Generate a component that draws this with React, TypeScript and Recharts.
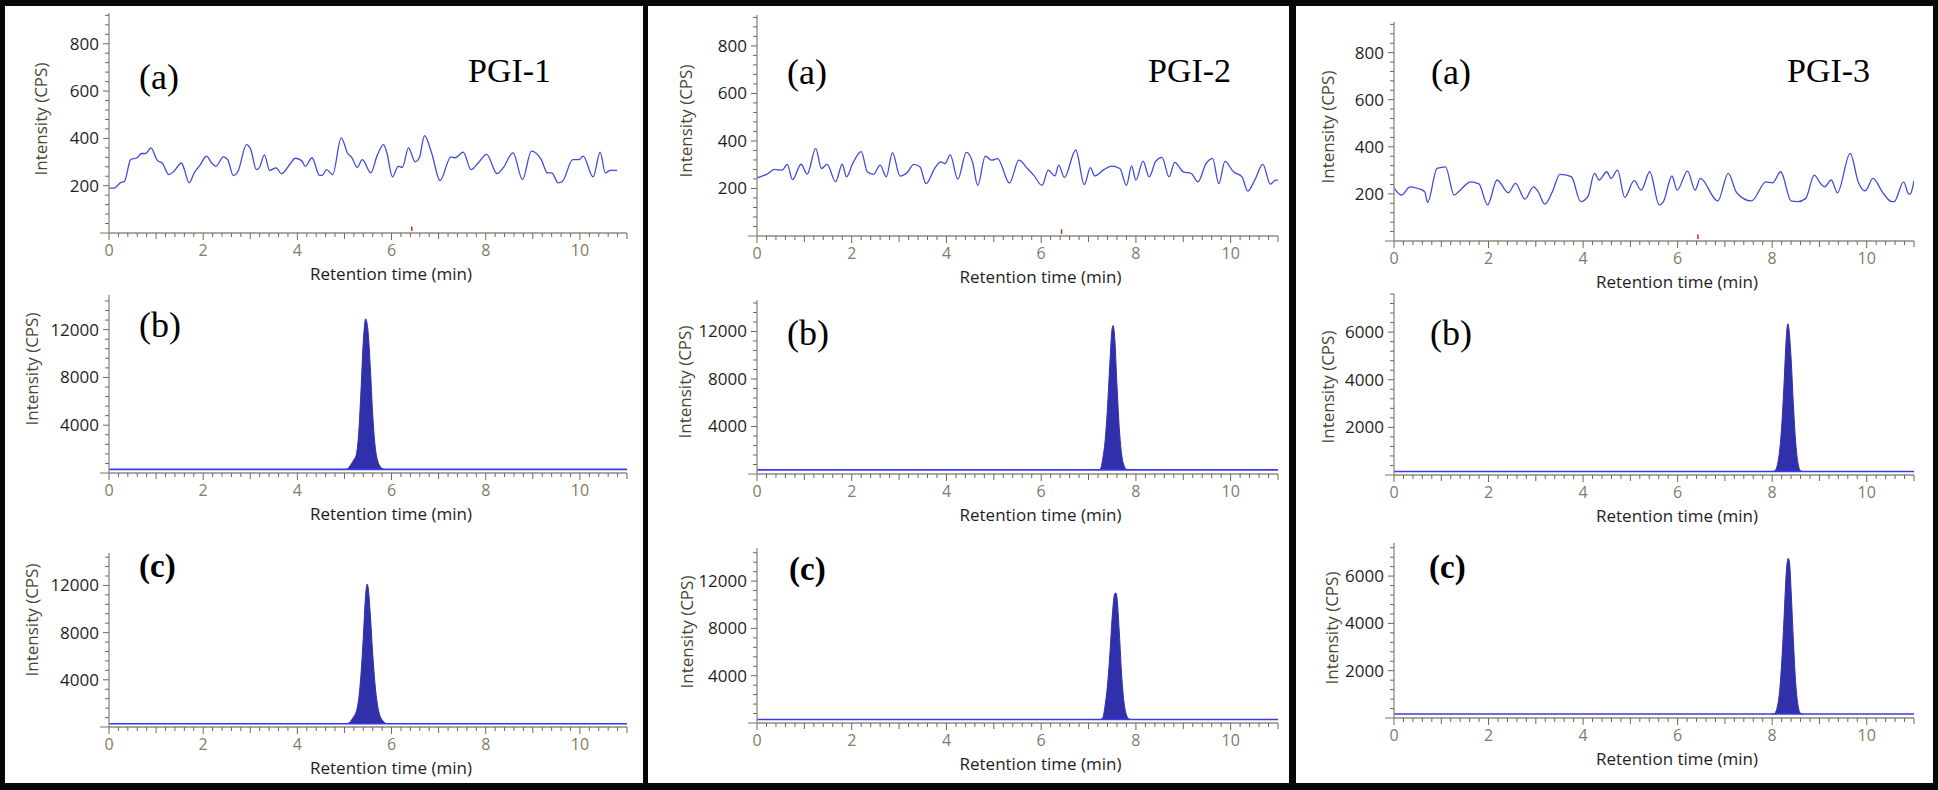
import React from 'react';
import { ComposedChart, Line, Area, XAxis, YAxis, ReferenceLine } from 'recharts';

// ---------- DATA ----------
// (a) blank noise traces: retention time (min) and intensity (CPS)
const PGI1_A_T = [0.0, 0.11, 0.24, 0.33, 0.46, 0.6, 0.69, 0.78, 0.89, 1.03, 1.13, 1.27, 1.38, 1.54, 1.6, 1.7, 1.81, 1.94, 2.07, 2.18, 2.27, 2.43, 2.52, 2.64, 2.74, 2.92, 3.01, 3.13, 3.19, 3.3, 3.41, 3.55, 3.66, 3.86, 3.95, 4.09, 4.17, 4.31, 4.47, 4.53, 4.62, 4.75, 4.93, 5.07, 5.16, 5.27, 5.38, 5.56, 5.69, 5.83, 5.9, 6.02, 6.14, 6.23, 6.36, 6.5, 6.59, 6.7, 6.85, 7.03, 7.26, 7.35, 7.52, 7.69, 7.84, 8.02, 8.24, 8.37, 8.58, 8.78, 8.97, 9.18, 9.31, 9.4, 9.54, 9.63, 9.85, 9.98, 10.07, 10.28, 10.43, 10.54, 10.65, 10.79];
const PGI1_A_V = [190, 190, 212, 219, 310, 318, 336, 336, 360, 306, 296, 247, 261, 296, 268, 212, 254, 289, 325, 296, 282, 322, 310, 243, 261, 374, 353, 268, 275, 330, 265, 275, 251, 296, 316, 306, 282, 318, 244, 244, 268, 247, 402, 336, 318, 278, 310, 254, 325, 374, 339, 237, 282, 278, 360, 301, 318, 412, 339, 222, 322, 318, 342, 268, 296, 332, 251, 275, 339, 226, 346, 310, 254, 254, 212, 219, 310, 310, 325, 237, 342, 254, 265, 265];

const PGI2_A_T = [0.0, 0.11, 0.2, 0.37, 0.53, 0.64, 0.75, 0.93, 1.06, 1.24, 1.36, 1.48, 1.66, 1.8, 1.89, 2.02, 2.2, 2.33, 2.46, 2.6, 2.73, 2.86, 3.02, 3.17, 3.31, 3.44, 3.57, 3.75, 3.88, 3.97, 4.08, 4.24, 4.42, 4.55, 4.66, 4.82, 4.96, 5.08, 5.33, 5.53, 5.71, 5.84, 6.02, 6.15, 6.29, 6.37, 6.49, 6.73, 6.91, 7.04, 7.13, 7.31, 7.48, 7.66, 7.8, 7.91, 8.0, 8.15, 8.28, 8.42, 8.55, 8.7, 8.82, 9.0, 9.17, 9.31, 9.48, 9.62, 9.75, 9.88, 10.06, 10.24, 10.36, 10.51, 10.68, 10.84, 10.95, 11.0];
const PGI2_A_V = [245, 252, 259, 280, 277, 301, 237, 302, 260, 369, 284, 301, 228, 302, 249, 305, 355, 270, 259, 298, 249, 351, 252, 267, 301, 291, 220, 284, 312, 305, 341, 239, 352, 312, 213, 336, 319, 326, 223, 319, 284, 256, 213, 277, 253, 298, 246, 362, 216, 288, 253, 277, 294, 284, 213, 295, 235, 315, 249, 315, 331, 249, 310, 270, 263, 228, 305, 326, 220, 314, 270, 249, 189, 235, 301, 218, 235, 235];

const PGI3_A_T = [0.0, 0.16, 0.34, 0.51, 0.65, 0.71, 0.91, 1.09, 1.27, 1.4, 1.62, 1.76, 1.8, 1.98, 2.18, 2.42, 2.57, 2.77, 2.95, 3.04, 3.19, 3.35, 3.51, 3.75, 3.95, 4.1, 4.24, 4.34, 4.5, 4.59, 4.73, 4.88, 5.08, 5.23, 5.41, 5.61, 5.7, 5.88, 5.99, 6.21, 6.37, 6.48, 6.81, 6.85, 7.07, 7.25, 7.56, 7.87, 8.01, 8.18, 8.4, 8.54, 8.71, 8.89, 9.02, 9.11, 9.25, 9.38, 9.65, 9.82, 9.96, 10.0, 10.13, 10.35, 10.53, 10.58, 10.78, 10.89, 10.93, 11.0];
const PGI3_A_V = [226, 195, 230, 223, 209, 164, 308, 315, 195, 216, 251, 245, 242, 153, 259, 205, 245, 178, 230, 213, 157, 209, 283, 273, 167, 188, 287, 259, 294, 266, 301, 185, 256, 216, 294, 153, 167, 276, 216, 297, 216, 266, 174, 170, 287, 205, 170, 251, 247, 294, 170, 167, 181, 280, 245, 230, 259, 205, 372, 251, 213, 219, 266, 202, 167, 167, 251, 199, 202, 255];

// (b) and (c) chromatograms: baseline level and peak profile
const PGI1_B_BASE = 300;
const PGI1_B_T = [5.0, 5.05, 5.1, 5.15, 5.2, 5.25, 5.3, 5.35, 5.4, 5.45, 5.5, 5.55, 5.6, 5.65, 5.7, 5.75, 5.8, 5.85];
const PGI1_B_V = [300, 320, 500, 800, 1100, 1500, 3200, 6800, 11000, 12900, 11900, 8800, 4900, 2300, 1100, 600, 380, 300];

const PGI1_C_BASE = 280;
const PGI1_C_T = [5.05, 5.1, 5.15, 5.2, 5.25, 5.3, 5.35, 5.4, 5.45, 5.48, 5.5, 5.55, 5.6, 5.65, 5.7, 5.75, 5.8, 5.85, 5.9];
const PGI1_C_V = [280, 350, 600, 900, 1300, 2300, 4400, 7600, 11200, 12100, 11900, 9500, 6200, 3600, 1900, 1000, 600, 380, 280];

const PGI2_B_BASE = 350;
const PGI2_B_T = [7.2, 7.25, 7.3, 7.35, 7.4, 7.45, 7.5, 7.52, 7.55, 7.6, 7.65, 7.7, 7.75, 7.8, 7.85];
const PGI2_B_V = [350, 420, 1300, 2800, 5600, 9300, 12300, 12500, 11600, 7500, 3800, 1600, 700, 400, 350];

const PGI2_C_BASE = 300;
const PGI2_C_T = [7.25, 7.3, 7.35, 7.4, 7.45, 7.5, 7.55, 7.58, 7.6, 7.65, 7.7, 7.75, 7.8, 7.85, 7.9];
const PGI2_C_V = [300, 450, 1500, 3200, 5800, 9000, 10900, 11000, 10600, 7600, 4000, 1700, 700, 350, 300];

const PGI3_B_BASE = 150;
const PGI3_B_T = [8.0, 8.05, 8.1, 8.15, 8.2, 8.25, 8.3, 8.33, 8.35, 8.4, 8.45, 8.5, 8.55, 8.6, 8.65];
const PGI3_B_V = [150, 170, 350, 900, 2000, 3800, 5800, 6350, 6200, 4900, 2900, 1300, 450, 180, 150];

const PGI3_C_BASE = 170;
const PGI3_C_T = [8.0, 8.05, 8.1, 8.15, 8.2, 8.25, 8.3, 8.34, 8.37, 8.4, 8.45, 8.5, 8.55, 8.6, 8.65];
const PGI3_C_V = [170, 190, 400, 1000, 2300, 4200, 6200, 6750, 6500, 5400, 3200, 1400, 500, 200, 170];

// marker on the (a) traces
const MARKER_T = 6.43;

// labels
const PANEL_TITLES = ['PGI-1', 'PGI-2', 'PGI-3'];
const ROW_LETTERS = ['(a)', '(b)', '(c)'];
const X_TITLE = 'Retention time (min)';
const Y_TITLE = 'Intensity (CPS)';
const X_TICKS = Array.from({ length: 56 }, (_, i) => i / 5);

// ---------- STYLE ----------
const AXIS = '#8e8c80';
const TICK = '#6e6852';
const YLABEL = '#1e1e1e';
const XLABEL = '#857a68';
const TITLE = '#1e1e1e';
const YTITLE = '#4a4530';
const NOISE = '#3f4cd8';
const PEAK = '#3030aa';
const BASE = '#3838ee';
const SANS = "'Open Sans', 'DejaVu Sans', sans-serif";
const SERIF = "'Liberation Serif', 'Times New Roman', serif";

const zip = (ts: number[], vs: number[]) => ts.map((t, i) => ({ t, v: vs[i] }));

type Spec = {
  key: string;
  left: number; right: number; top: number; bottom: number;
  yMax: number; yStep: number; yMajor: number;
  noise?: { t: number; v: number }[];
  peak?: { t: number; v: number }[];
  base?: number;
  titleDx: number; titleCy: number;
};

const SPECS: Spec[] = [
  { key: 'p1a', left: 109, right: 627, top: 13, bottom: 233, yMax: 930, yStep: 40, yMajor: 200, noise: zip(PGI1_A_T, PGI1_A_V), titleDx: 69, titleCy: 119 },
  { key: 'p1b', left: 109, right: 627, top: 295, bottom: 473, yMax: 14900, yStep: 800, yMajor: 4000, peak: zip(PGI1_B_T, PGI1_B_V), base: PGI1_B_BASE, titleDx: 78, titleCy: 369 },
  { key: 'p1c', left: 109, right: 627, top: 553, bottom: 727, yMax: 14750, yStep: 800, yMajor: 4000, peak: zip(PGI1_C_T, PGI1_C_V), base: PGI1_C_BASE, titleDx: 78, titleCy: 620 },
  { key: 'p2a', left: 757, right: 1278, top: 15, bottom: 236, yMax: 930, yStep: 40, yMajor: 200, noise: zip(PGI2_A_T, PGI2_A_V), titleDx: 72, titleCy: 121 },
  { key: 'p2b', left: 757, right: 1278, top: 300, bottom: 474, yMax: 14650, yStep: 800, yMajor: 4000, peak: zip(PGI2_B_T, PGI2_B_V), base: PGI2_B_BASE, titleDx: 73, titleCy: 382 },
  { key: 'p2c', left: 757, right: 1278, top: 548, bottom: 723, yMax: 14800, yStep: 800, yMajor: 4000, peak: zip(PGI2_C_T, PGI2_C_V), base: PGI2_C_BASE, titleDx: 71, titleCy: 632 },
  { key: 'p3a', left: 1394, right: 1914, top: 22, bottom: 241, yMax: 930, yStep: 40, yMajor: 200, noise: zip(PGI3_A_T, PGI3_A_V), titleDx: 67, titleCy: 127 },
  { key: 'p3b', left: 1394, right: 1914, top: 294, bottom: 475, yMax: 7600, yStep: 400, yMajor: 2000, peak: zip(PGI3_B_T, PGI3_B_V), base: PGI3_B_BASE, titleDx: 67, titleCy: 387 },
  { key: 'p3c', left: 1394, right: 1914, top: 543, bottom: 718, yMax: 7400, yStep: 400, yMajor: 2000, peak: zip(PGI3_C_T, PGI3_C_V), base: PGI3_C_BASE, titleDx: 63, titleCy: 628 },
];

// ---------- TICKS ----------
function XTick(props: any) {
  const { x, y, payload } = props;
  const i = Math.round(payload.value * 5);
  const major = i % 10 === 0;
  const mid = i % 5 === 0;
  const len = major ? 7 : mid ? 6 : 4;
  return (
    <g>
      <line x1={x} y1={y} x2={x} y2={y + len} stroke={TICK} strokeWidth={1} />
      {major && (
        <text x={x} y={y + 23} textAnchor="middle" fontFamily={SANS} fontSize={16} fill={XLABEL}>
          {i / 5}
        </text>
      )}
    </g>
  );
}

const makeYTick = (major: number) => (props: any) => {
  const { x, y, payload } = props;
  const v = payload.value;
  if (v === 0) {
    return (
      <g>
        <line x1={x - 9} y1={y} x2={x} y2={y} stroke={AXIS} strokeWidth={1.2} />
      </g>
    );
  }
  const lab = v % major === 0;
  const len = lab ? 6 : 4;
  return (
    <g>
      <line x1={x - len} y1={y} x2={x} y2={y} stroke={TICK} strokeWidth={1} />
      {lab && (
        <text x={x - 10} y={y + 6} textAnchor="end" fontFamily={SANS} fontSize={17} fill={YLABEL}>
          {v}
        </text>
      )}
    </g>
  );
};

function FixedText(props: any) {
  const { tx, ty, rotate, children, size, color } = props;
  return (
    <text
      x={tx}
      y={ty}
      textAnchor="middle"
      fontFamily={SANS}
      fontSize={size}
      fill={color}
      transform={rotate ? `rotate(-90, ${tx}, ${ty})` : undefined}
      dominantBaseline={rotate ? 'central' : undefined}
    >
      {children}
    </text>
  );
}

const ML = 100;
const MT = 20;
const MR = 20;
const MB = 60;

function Sub({ s }: { s: Spec }) {
  const plotW = s.right - s.left;
  const plotH = s.bottom - s.top;
  const w = plotW + ML + MR;
  const h = plotH + MT + MB;
  const yTicks = Array.from({ length: Math.floor(s.yMax / s.yStep) + 1 }, (_, i) => i * s.yStep);
  const baseLine = s.base !== undefined ? [{ t: 0, v: s.base }, { t: 11, v: s.base }] : [];
  return (
    <div style={{ position: 'absolute', left: s.left - ML, top: s.top - MT, width: w, height: h }}>
      <ComposedChart width={w} height={h} margin={{ top: MT, right: MR, bottom: 0, left: 0 }}>
        <XAxis
          type="number"
          dataKey="t"
          domain={[0, 11]}
          ticks={X_TICKS}
          interval={0}
          height={MB}
          tickSize={0}
          tickMargin={0}
          tickLine={false}
          tick={XTick}
          axisLine={{ stroke: AXIS, strokeWidth: 1.3 }}
          allowDataOverflow
          label={
            <FixedText tx={ML + plotW / 2 + 23} ty={MT + plotH + 47} size={17} color={TITLE}>
              {X_TITLE}
            </FixedText>
          }
        />
        <YAxis
          type="number"
          domain={[0, s.yMax]}
          ticks={yTicks}
          interval={0}
          width={ML}
          tickSize={0}
          tickMargin={0}
          tickLine={false}
          tick={makeYTick(s.yMajor)}
          axisLine={{ stroke: AXIS, strokeWidth: 1.3 }}
          allowDataOverflow
          label={
            <FixedText tx={ML - s.titleDx} ty={s.titleCy - (s.top - MT)} rotate size={17} color={YTITLE}>
              {Y_TITLE}
            </FixedText>
          }
        />
        {s.noise && (
          <Line
            data={s.noise}
            dataKey="v"
            type="monotone"
            stroke={NOISE}
            strokeWidth={1.3}
            dot={false}
            activeDot={false}
            isAnimationActive={false}
          />
        )}
        {s.noise && (
          <ReferenceLine
            segment={[{ x: MARKER_T, y: 8 }, { x: MARKER_T, y: 28 }]}
            stroke="#c8321e"
            strokeWidth={1.5}
          />
        )}
        {s.peak && (
          <Area
            data={s.peak}
            dataKey="v"
            type="monotone"
            baseValue={s.base}
            stroke={PEAK}
            strokeWidth={1}
            fill={PEAK}
            fillOpacity={1}
            dot={false}
            activeDot={false}
            isAnimationActive={false}
          />
        )}
        {s.peak && (
          <Line
            data={baseLine}
            dataKey="v"
            type="linear"
            stroke={BASE}
            strokeWidth={1.6}
            dot={false}
            activeDot={false}
            isAnimationActive={false}
          />
        )}
      </ComposedChart>
    </div>
  );
}

const PANEL_BOXES = [
  { left: 5, width: 638 },
  { left: 648, width: 641 },
  { left: 1296, width: 637 },
];

const LETTER_POS = [
  [{ x: 139, y: 89 }, { x: 139, y: 337 }, { x: 139, y: 577 }],
  [{ x: 787, y: 84 }, { x: 787, y: 345 }, { x: 789, y: 580 }],
  [{ x: 1431, y: 84 }, { x: 1430, y: 345 }, { x: 1429, y: 578 }],
];
const TITLE_POS = [{ x: 468, y: 82 }, { x: 1148, y: 82 }, { x: 1787, y: 82 }];

export default function App() {
  return (
    <div style={{ position: 'absolute', left: 0, top: 0, width: 1938, height: 790, background: '#080808', overflow: 'hidden' }}>
      {PANEL_BOXES.map((b, i) => (
        <div key={i} style={{ position: 'absolute', left: b.left, top: 6, width: b.width, height: 777, background: '#ffffff' }} />
      ))}
      {SPECS.map((s) => (
        <Sub key={s.key} s={s} />
      ))}
      <svg width={1938} height={790} style={{ position: 'absolute', left: 0, top: 0, pointerEvents: 'none' }}>
        {LETTER_POS.map((col, ci) =>
          col.map((p, ri) => (
            <text
              key={`${ci}-${ri}`}
              x={p.x}
              y={p.y}
              fontFamily={SERIF}
              fontSize={ri === 2 ? 33 : 36}
              fontWeight={ri === 2 ? 'bold' : 'normal'}
              fill="#000"
            >
              {ROW_LETTERS[ri]}
            </text>
          ))
        )}
        {TITLE_POS.map((p, i) => (
          <text key={i} x={p.x} y={p.y} fontFamily={SERIF} fontSize={34} fill="#000">
            {PANEL_TITLES[i]}
          </text>
        ))}
      </svg>
    </div>
  );
}
